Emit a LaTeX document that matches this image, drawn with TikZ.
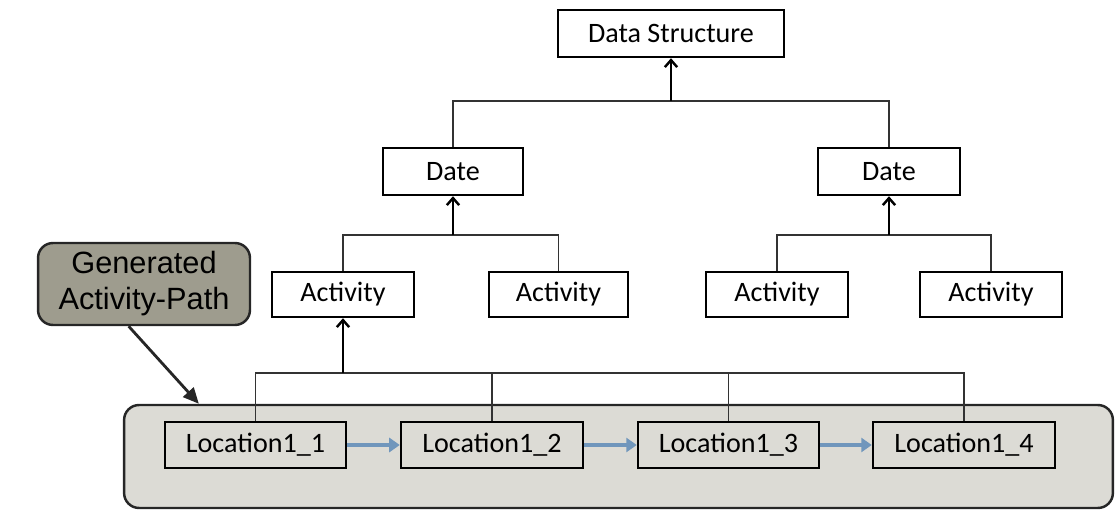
\documentclass[tikz,border=0pt]{standalone}
\usepackage{fontspec}
\setmainfont{Carlito}
\newfontfamily\notefont{Liberation Sans}
\usetikzlibrary{arrows.meta}
\definecolor{pathgrey}{RGB}{220,219,213}
\definecolor{notegrey}{RGB}{158,156,142}
\definecolor{linkblue}{RGB}{112,150,188}
\tikzset{
  box/.style={draw=black, line width=1.4pt, fill=white, inner sep=0pt,
    font=\fontsize{16}{19}\selectfont},
  locbox/.style={box, fill=pathgrey, minimum height=0.92cm},
  link/.style={draw=black!80, line width=0.9pt},
  up/.style={-{Straight Barb[length=4pt,width=7pt]}, line width=1.4pt},
  next/.style={-{Triangle[length=6pt,width=8pt]}, draw=linkblue, line width=1.9pt},
}
\begin{document}
\begin{tikzpicture}[x=0.02cm, y=-0.02cm]
\useasboundingbox (0,0) rectangle (1117,510);
% activity path
\node (path) [draw=black!85, fill=pathgrey, line width=1.4pt, rounded corners=0.3cm,
  minimum width=19.78cm, minimum height=2.06cm] at (618.5,456.5) {};
\node (note) [draw=black!85, fill=notegrey, line width=1.4pt, rounded corners=0.3cm,
  minimum width=4.24cm, minimum height=1.64cm, align=center,
  font=\notefont\fontsize{17.5}{20.5}\selectfont] at (144,284) {Generated\\Activity-Path};

% tree
\node (ds) [box, minimum width=4.52cm, minimum height=0.94cm] at (671,33.5) {Data Structure};
\node (dl) [box, minimum width=2.8cm, minimum height=0.94cm] at (453,171.5) {Date};
\node (dr) [box, minimum width=2.84cm, minimum height=0.94cm] at (889,171.5) {Date};
\node (a1) [box, minimum width=2.84cm, minimum height=0.9cm] at (343,294.5) {Activity};
\node (a2) [box, minimum width=2.78cm, minimum height=0.9cm] at (558.5,294.5) {Activity};
\node (a3) [box, minimum width=2.84cm, minimum height=0.9cm] at (777,294.5) {Activity};
\node (a4) [box, minimum width=2.84cm, minimum height=0.9cm] at (991,294.5) {Activity};
\node (l1) [locbox, minimum width=3.62cm] at (255.5,445) {Location1\_1};
\node (l2) [locbox, minimum width=3.64cm] at (492,445) {Location1\_2};
\node (l3) [locbox, minimum width=3.62cm] at (728.5,445) {Location1\_3};
\node (l4) [locbox, minimum width=3.64cm] at (964,445) {Location1\_4};

\coordinate (jtop) at (671,101);
\coordinate (jl) at (453,235);
\coordinate (jr) at (889,235);
\coordinate (jb) at (343,373);

\draw[link] (dl.north) |- (jtop) -| (dr.north);
\draw[up] (jtop) -- (ds.south);
\draw[link] (a1.north) |- (jl) -| (a2.north);
\draw[up] (jl) -- (dl.south);
\draw[link] (a3.north) |- (jr) -| (a4.north);
\draw[up] (jr) -- (dr.south);
\draw[link] (l1.north) |- (jb) -| (l4.north);
\draw[link] (l2.north) -- (l2.north |- jb);
\draw[link] (l3.north) -- (l3.north |- jb);
\draw[up] (jb) -- (a1.south);

\draw[next] (l1) -- (l2);
\draw[next] (l2) -- (l3);
\draw[next] (l3) -- (l4);

\draw[-{Triangle[length=9pt,width=8pt]}, line width=1.6pt, draw=black!85]
  (note.250) -- ([xshift=1.52cm]path.north west);
\end{tikzpicture}
\end{document}
